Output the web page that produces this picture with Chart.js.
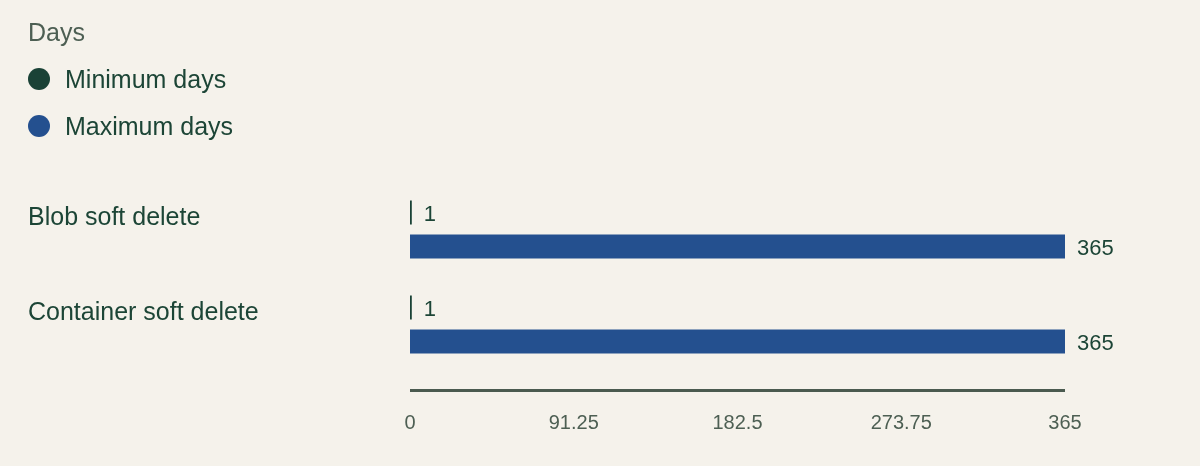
<!DOCTYPE html>
<html>
<head>
<meta charset="utf-8">
<title>Soft delete retention</title>
<script src="https://cdn.jsdelivr.net/npm/chart.js@4.4.1/dist/chart.umd.min.js"></script>
<style>
    body { margin: 0; background: #f5f2eb; font-family: "Liberation Sans", Arial, sans-serif; }
    #wrap { position: relative; width: 1200px; height: 466px; }
    #legend { position: absolute; left: 28px; top: 18px; }
    #legend .title { font-size: 25px; line-height: 28px; color: #4d5f53; height: 28px; }
    #legend .item { display: flex; align-items: center; height: 28px; margin-top: 19px; font-size: 25px; color: #1c4536; }
    #legend .dot { width: 22px; height: 22px; border-radius: 50%; margin-right: 15px; }
</style>
</head>
<body>
<div id="wrap">
    <canvas id="chart"></canvas>
    <div id="legend"></div>
</div>
<script>
const categories = ['Blob soft delete', 'Container soft delete'];
const minDays = [1, 1];
const maxDays = [365, 365];
const xTicks = [0, 91.25, 182.5, 273.75, 365];

const textColor = '#1c4536';
const mutedColor = '#4d5f53';

Chart.defaults.font.family = '"Liberation Sans", Arial, sans-serif';

// line under the bars, sits a bit below the plot area
const axisLine = {
    id: 'axisLine',
    afterDraw(chart) {
        const x = chart.scales.x;
        const ctx = chart.ctx;
        ctx.save();
        ctx.strokeStyle = '#4a5a4f';
        ctx.lineWidth = 3;
        ctx.beginPath();
        ctx.moveTo(x.getPixelForValue(0), chart.chartArea.bottom + 18.5);
        ctx.lineTo(x.getPixelForValue(365), chart.chartArea.bottom + 18.5);
        ctx.stroke();
        ctx.restore();
    }
};

// numbers at the end of each bar
const valueLabels = {
    id: 'valueLabels',
    afterDatasetsDraw(chart) {
        const ctx = chart.ctx;
        ctx.save();
        ctx.font = '22px "Liberation Sans", Arial, sans-serif';
        ctx.fillStyle = textColor;
        ctx.textBaseline = 'middle';
        ctx.textAlign = 'left';
        chart.data.datasets.forEach((ds, i) => {
            chart.getDatasetMeta(i).data.forEach((bar, j) => {
                ctx.fillText(String(ds.data[j]), bar.x + 12, bar.y + 2);
            });
        });
        ctx.restore();
    }
};

const chart = new Chart(document.getElementById('chart'), {
    type: 'bar',
    data: {
        labels: categories,
        datasets: [{
            label: 'Minimum days',
            data: minDays,
            backgroundColor: '#1a4236'
        }, {
            label: 'Maximum days',
            data: maxDays,
            backgroundColor: '#24508f'
        }]
    },
    options: {
        indexAxis: 'y',
        responsive: true,
        maintainAspectRatio: false,
        animation: false,
        categoryPercentage: 0.716,
        barPercentage: 0.706,
        layout: {
            padding: { top: 182, left: 28, right: 135, bottom: 31 }
        },
        plugins: {
            legend: { display: false },
            tooltip: { enabled: false }
        },
        scales: {
            x: {
                min: 0,
                max: 365,
                afterBuildTicks(scale) {
                    scale.ticks = xTicks.map(v => ({ value: v }));
                },
                afterFit(scale) {
                    scale.height = 63;
                },
                grid: { display: false, drawTicks: false },
                border: { display: false },
                ticks: {
                    padding: 39,
                    color: mutedColor,
                    font: { size: 20 },
                    maxRotation: 0,
                    callback: v => String(v)
                }
            },
            y: {
                grid: { display: false, drawTicks: false },
                border: { display: false },
                afterFit(scale) {
                    scale.width = 382;
                },
                ticks: {
                    crossAlign: 'far',
                    labelOffset: -11,
                    color: textColor,
                    font: { size: 25 }
                }
            }
        }
    },
    plugins: [axisLine, valueLabels]
});

// html legend, stacked vertically like the original
const legend = document.getElementById('legend');
legend.innerHTML = '<div class="title">Days</div>';
chart.data.datasets.forEach(ds => {
    const item = document.createElement('div');
    item.className = 'item';
    item.innerHTML = '<span class="dot" style="background:' + ds.backgroundColor + '"></span>' + ds.label;
    legend.appendChild(item);
});
</script>
</body>
</html>
